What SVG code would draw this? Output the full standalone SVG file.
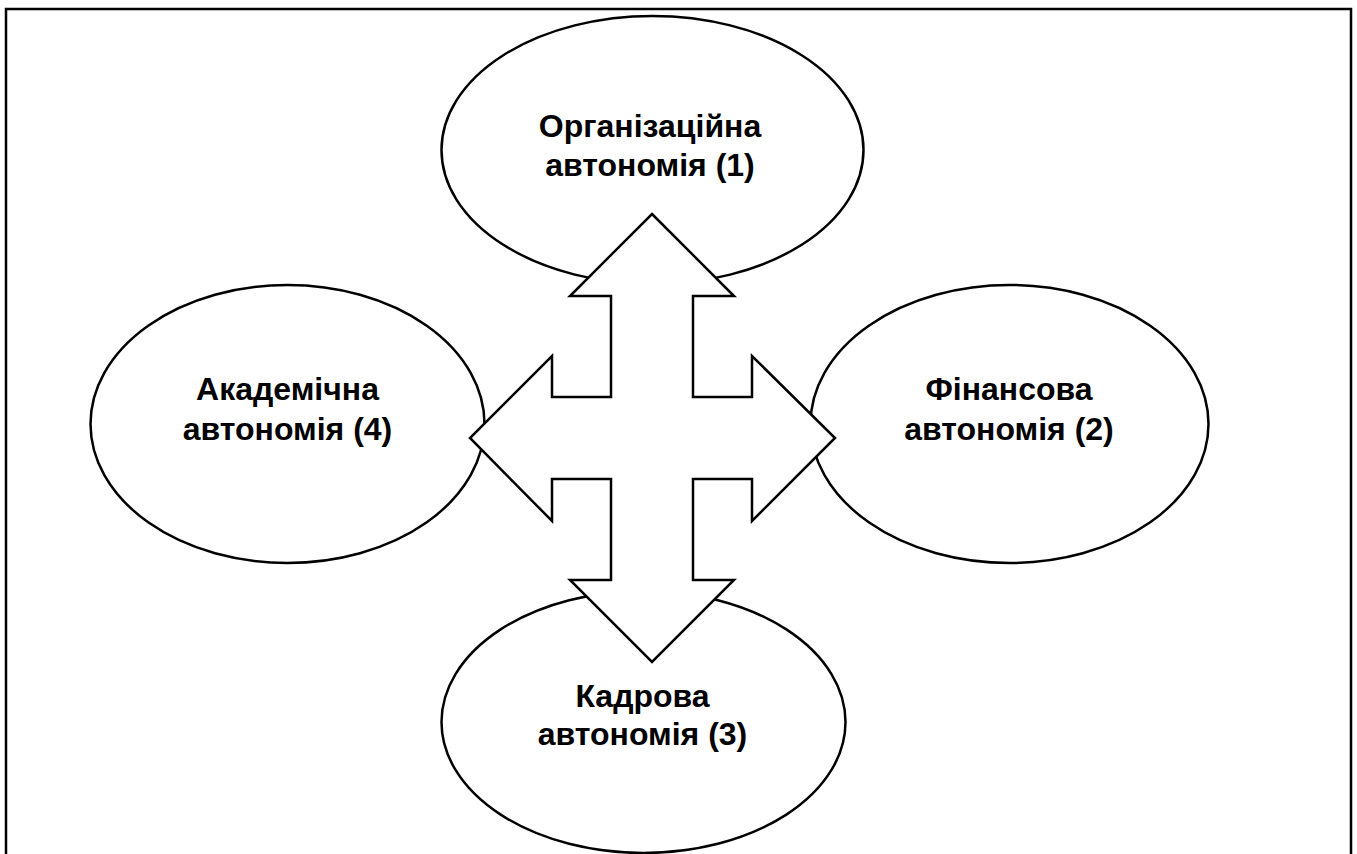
<svg xmlns="http://www.w3.org/2000/svg" width="1357" height="854" viewBox="0 0 1357 854">
<style>
.frame{fill:#fff;stroke:#000;stroke-width:2.5}
.node ellipse{fill:#fff;stroke:#000;stroke-width:2.5}
.node text{font-family:"Liberation Sans",Arial,sans-serif;font-weight:bold;font-size:32px;fill:#000;text-anchor:middle}
.arrow{fill:#fff;stroke:#000;stroke-width:2.5;stroke-linejoin:miter}
</style>
<rect width="1357" height="854" fill="#fff"/>
<rect class="frame" x="6" y="9" width="1345" height="860"/>
<g id="node1" class="node">
<ellipse cx="652.5" cy="150" rx="211" ry="134"/>
<text x="650" y="137">Організаційна</text>
<text x="650" y="176">автономія (1)</text>
</g>
<g id="node2" class="node">
<ellipse cx="1009.5" cy="424" rx="199" ry="139"/>
<text x="1009" y="400">Фінансова</text>
<text x="1009" y="440">автономія (2)</text>
</g>
<g id="node3" class="node">
<ellipse cx="643.5" cy="722" rx="202" ry="131"/>
<text x="642.5" y="707">Кадрова</text>
<text x="642.5" y="745">автономія (3)</text>
</g>
<g id="node4" class="node">
<ellipse cx="287.5" cy="424" rx="197" ry="139"/>
<text x="287.5" y="400">Академічна</text>
<text x="287.5" y="440">автономія (4)</text>
</g>
<g id="connectors">
<path class="arrow" d="M652,214 L734,296 L693,296 L693,397 L752,397 L752,356 L835,438 L752,521 L752,479 L693,479 L693,580 L734,580 L652,662 L570,580 L611,580 L611,479 L552,479 L552,521 L470,438 L552,356 L552,397 L611,397 L611,296 L570,296 Z"/>
</g>
</svg>
